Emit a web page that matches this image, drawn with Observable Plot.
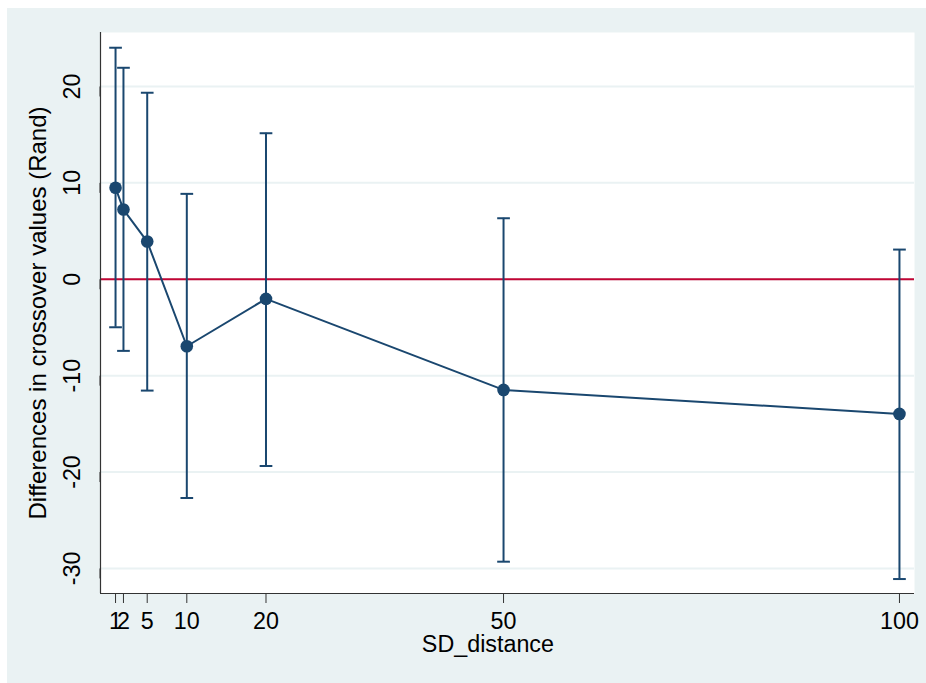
<!DOCTYPE html>
<html>
<head>
<meta charset="utf-8">
<script src="https://cdn.jsdelivr.net/npm/d3@7"></script>
<script src="https://cdn.jsdelivr.net/npm/@observablehq/plot@0.6"></script>
<style>
  html, body { margin: 0; padding: 0; background: #ffffff; }
  #chart { position: absolute; left: 7px; top: 8px; }
  svg { display: block; }
</style>
</head>
<body>
<div id="chart"></div>
<script>
// Data
const sdDistance = [1, 2, 5, 10, 20, 50, 100];
const meanDiff   = [9.49, 7.23, 3.91, -6.95, -2.03, -11.48, -13.97];
const upperCI    = [24.02, 21.94, 19.35, 8.86, 15.15, 6.33, 3.08];
const lowerCI    = [-4.98, -7.43, -11.55, -22.69, -19.37, -29.3, -31.1];

const xTicks = [1, 2, 5, 10, 20, 50, 100];
const yTicks = [-30, -20, -10, 0, 10, 20];
const xDomain = [-0.9, 101.9];
const yDomain = [-32.6, 25.6];

const rows = sdDistance.map((x, i) => ({x, mean: meanDiff[i], hi: upperCI[i], lo: lowerCI[i]}));

const navy = "#1a476f";
const font = "'Liberation Sans', Arial, Helvetica, sans-serif";
const fs = 23.3;

// horizontal cap symbol for error bars
const capSymbol = {
  draw(context) {
    context.moveTo(-6.35, 0);
    context.lineTo(6.35, 0);
  }
};

const chart = Plot.plot({
  width: 919,
  height: 675,
  marginLeft: 93,
  marginRight: 12,
  marginTop: 24,
  marginBottom: 90,
  style: {background: "#eaf2f3", fontFamily: font, color: "#000"},
  x: {domain: xDomain, ticks: xTicks},
  y: {domain: yDomain, ticks: yTicks},
  marks: [
    Plot.frame({fill: "white", stroke: null}),
    Plot.ruleY(yTicks, {stroke: "#eaf2f3", strokeWidth: 2}),
    Plot.ruleY([0], {stroke: "#c10534", strokeWidth: 2}),
    Plot.ruleX(rows, {x: "x", y1: "lo", y2: "hi", stroke: navy, strokeWidth: 2}),
    Plot.dot(rows, {x: "x", y: "hi", symbol: capSymbol, stroke: navy, strokeWidth: 2, fill: "none", r: 6}),
    Plot.dot(rows, {x: "x", y: "lo", symbol: capSymbol, stroke: navy, strokeWidth: 2, fill: "none", r: 6}),
    Plot.line(rows, {x: "x", y: "mean", stroke: navy, strokeWidth: 2}),
    Plot.dot(rows, {x: "x", y: "mean", fill: navy, r: 6.3, stroke: null}),
    Plot.ruleX([xDomain[0]], {stroke: "#333", strokeWidth: 1.2}),
    Plot.ruleY([yDomain[0]], {stroke: "#333", strokeWidth: 1.2}),
    Plot.axisX(xTicks, {
      tickSize: 10, tickPadding: 9, stroke: "#333", fontSize: fs, fill: "#000",
      tickFormat: d => String(d), label: null
    }),
    Plot.axisY(yTicks, {
      tickSize: 10, tickPadding: 17.5, stroke: "#333", fontSize: fs, fill: "#000",
      rotate: -90, textAnchor: "middle", lineAnchor: "middle",
      tickFormat: d => String(d), label: null
    }),
    Plot.text(["SD_distance"], {
      frameAnchor: "bottom", dx: -19.6, dy: 58, lineAnchor: "bottom",
      text: d => d, fontSize: fs, fill: "#000"
    }),
    Plot.text(["Differences in crossover values (Rand)"], {
      frameAnchor: "left", dx: -62, rotate: -90, textAnchor: "middle", lineAnchor: "middle",
      text: d => d, fontSize: 24, fill: "#000"
    })
  ]
});

document.getElementById("chart").appendChild(chart);
</script>
</body>
</html>
